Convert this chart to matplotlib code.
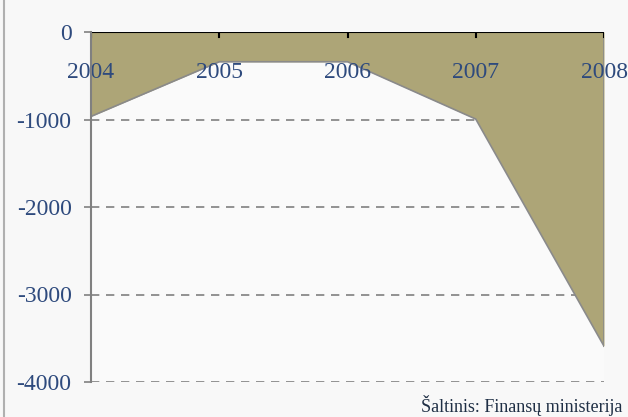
import numpy as np
import matplotlib.pyplot as plt
from matplotlib.lines import Line2D

# ============================================================
# DATA
# ============================================================
years = [2004, 2005, 2006, 2007, 2008]
balance = [-965, -340, -340, -995, -3590]
y_ticks = [0, -1000, -2000, -3000, -4000]

fill_color = '#ada577'
text_color = '#2e4a7d'
serif = ['Liberation Serif', 'DejaVu Serif']

# ============================================================
# PLOT
# ============================================================
fig = plt.figure(figsize=(6.28, 4.17), dpi=100, facecolor='#f8f8f8')
ax = fig.add_axes([91 / 628, 1 - 382 / 417, 513 / 628, 350 / 417])
ax.set_facecolor('#fafafa')

x = np.arange(len(years))
ax.fill_between(x, 0, balance, color=fill_color, linewidth=0, zorder=2)
ax.plot(x, balance, color='#8a8a8a', linewidth=1.2, zorder=3)
ax.plot([x[-1], x[-1]], [0, balance[-1]], color='#8a8a8a', linewidth=1.2, zorder=3)

for v in y_ticks[1:]:
    ax.axhline(v, color='#808080', linestyle=(0, (5, 4)), linewidth=1.2, zorder=1)

ax.axhline(0, color='black', linewidth=1.5, zorder=4)

ax.set_xlim(0, len(years) - 1)
ax.set_ylim(-4000, 0)

# y axis
ax.set_yticks(y_ticks)
ax.set_yticklabels([str(v) for v in y_ticks], fontfamily=serif, fontsize=17, color=text_color)
ax.tick_params(axis='y', length=5, color='#808080', width=1.2, pad=9)

# x axis labels inside the plot, ticks pointing down from the top line
ax.set_xticks([])
for xi, yr in zip(x, years):
    ax.text(xi, -460, str(yr), ha='center', va='center', fontfamily=serif,
            fontsize=17, color=text_color, zorder=5)
    ax.add_line(Line2D([xi, xi], [0, -60], color='black', linewidth=1.5, zorder=4))

for side in ['top', 'right', 'bottom']:
    ax.spines[side].set_visible(False)
ax.spines['left'].set_color('#808080')
ax.spines['left'].set_linewidth(1.5)
ax.spines['left'].set_zorder(6)

# frame line on the left of the figure
fig.add_artist(Line2D([4 / 628, 4 / 628], [0, 1], color='#b0b0b0', linewidth=1.5))

fig.text(622 / 628, 1 - 405 / 417, 'Šaltinis: Finansų ministerija', ha='right', va='center',
         fontfamily=serif, fontsize=13, color='#1f2f45')

plt.savefig('out.png', dpi=100, facecolor=fig.get_facecolor())
